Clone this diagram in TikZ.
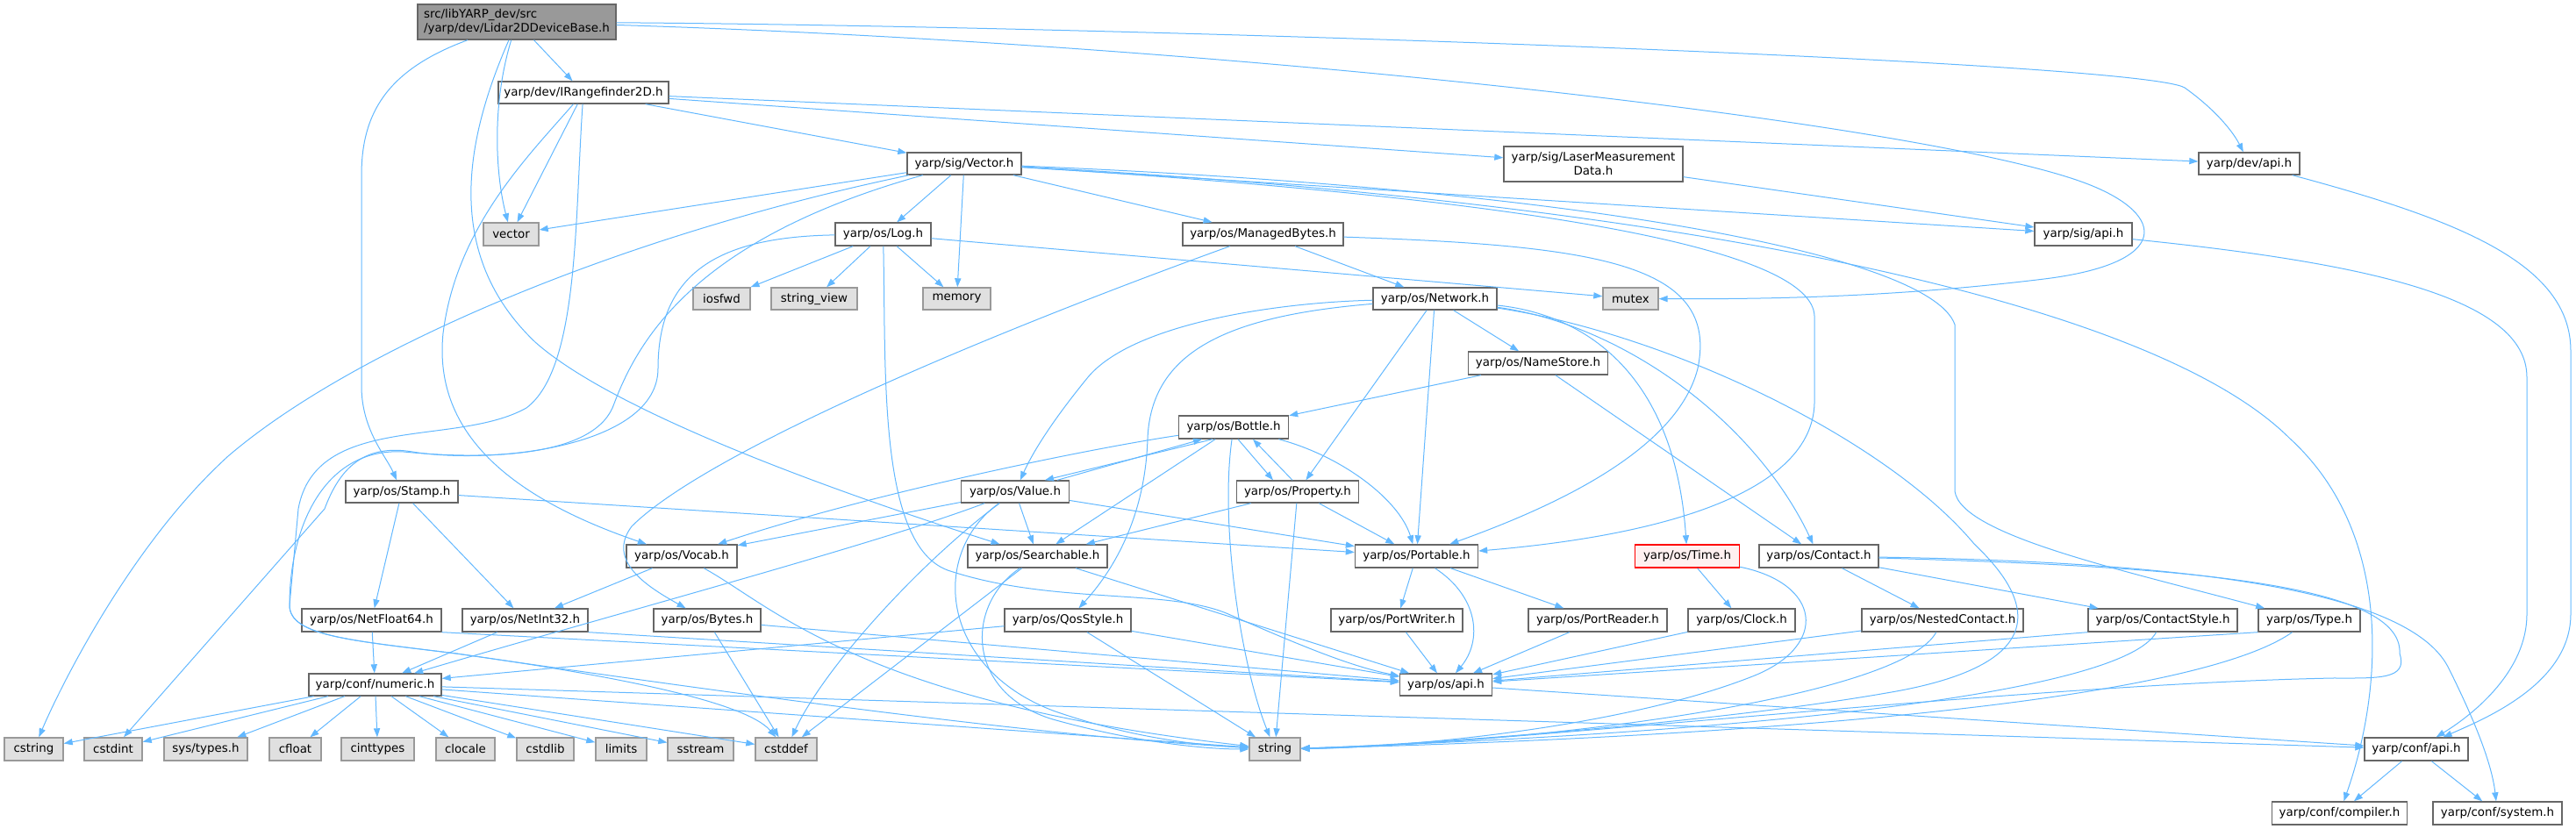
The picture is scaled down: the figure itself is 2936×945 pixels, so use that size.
\documentclass[tikz,border=0pt]{standalone}
\usepackage{fontspec}
\setmainfont{DejaVu Sans}
\usetikzlibrary{arrows.meta}
\definecolor{edgec}{HTML}{63B8FF}
\definecolor{bord}{HTML}{666666}
\definecolor{sysf}{HTML}{E0E0E0}
\definecolor{sysb}{HTML}{999999}
\definecolor{rootf}{HTML}{999999}
\definecolor{timef}{HTML}{FFF0F0}
\begin{document}
\begin{tikzpicture}[x=0.5pt,y=-0.5pt,
  nd/.style={draw=bord, fill=white, line width=0.7pt, inner sep=0pt, font=\fontsize{6.7}{8}\selectfont, text=black},
  sy/.style={nd, draw=sysb, fill=sysf},
  bx/.style 2 args={minimum width=#1*0.5pt, minimum height=#2*0.5pt},
  e/.style={draw=edgec, line width=0.5pt, -{Triangle[length=5pt,width=3.6pt]}},
]
\useasboundingbox (0,0) rectangle (2936,945);
% nodes
\node[nd, fill=rootf, bx={226}{40}, align=left] (L) at (589,25) {src/libYARP\_dev/src\\/yarp/dev/Lidar2DDeviceBase.h};
\node[nd, bx={194}{25}] (IR) at (665,105.5) {yarp/dev/IRangefinder2D.h};
\node[nd, bx={130}{25}] (SV) at (1099,186.5) {yarp/sig/Vector.h};
\node[nd, bx={204}{40}, align=center] (LMD) at (1816,187) {yarp/sig/LaserMeasurement\\Data.h};
\node[nd, bx={115}{25}] (DA) at (2563.5,186.5) {yarp/dev/api.h};
\node[sy, bx={63}{26}] (vec) at (582.5,267) {vector};
\node[nd, bx={109}{26}] (Log) at (1006.5,267) {yarp/os/Log.h};
\node[nd, bx={183}{26}] (MB) at (1439.5,267) {yarp/os/ManagedBytes.h};
\node[nd, bx={111}{26}] (SA) at (2374.5,267) {yarp/sig/api.h};
\node[sy, bx={65}{25}] (iosfwd) at (822.5,340.5) {iosfwd};
\node[sy, bx={98}{25}] (sview) at (928,340.5) {string\_view};
\node[sy, bx={77}{25}] (memory) at (1090.5,340.5) {memory};
\node[nd, bx={141}{25}] (Net) at (1635.5,340.5) {yarp/os/Network.h};
\node[sy, bx={63}{25}] (mutex) at (1858.5,340.5) {mutex};
\node[nd, bx={159}{26}] (NS) at (1753,414) {yarp/os/NameStore.h};
\node[nd, bx={125}{26}] (Bot) at (1406,487) {yarp/os/Bottle.h};
\node[nd, bx={128}{25}] (Stamp) at (458,560.5) {yarp/os/Stamp.h};
\node[nd, bx={123}{25}] (Val) at (1157,560.5) {yarp/os/Value.h};
\node[nd, bx={139}{25}] (Prop) at (1479,560.5) {yarp/os/Property.h};
\node[nd, bx={126}{26}] (Voc) at (777,634) {yarp/os/Vocab.h};
\node[nd, bx={159}{26}] (Srch) at (1182.5,634) {yarp/os/Searchable.h};
\node[nd, bx={140}{26}] (Port) at (1614.5,634) {yarp/os/Portable.h};
\node[nd, draw=red, fill=timef, bx={119}{26}] (Time) at (1923,634) {yarp/os/Time.h};
\node[nd, bx={136}{26}] (Cont) at (2073,634) {yarp/os/Contact.h};
\node[nd, bx={159}{26}] (NF) at (423.5,707) {yarp/os/NetFloat64.h};
\node[nd, bx={143}{26}] (NI) at (598.5,707) {yarp/os/NetInt32.h};
\node[nd, bx={122}{26}] (Bytes) at (806,707) {yarp/os/Bytes.h};
\node[nd, bx={144}{26}] (Qos) at (1217,707) {yarp/os/QosStyle.h};
\node[nd, bx={150}{26}] (PW) at (1592,707) {yarp/os/PortWriter.h};
\node[nd, bx={158}{26}] (PR) at (1821,707) {yarp/os/PortReader.h};
\node[nd, bx={122}{26}] (Clock) at (1985,707) {yarp/os/Clock.h};
\node[nd, bx={184}{26}] (NC) at (2214,707) {yarp/os/NestedContact.h};
\node[nd, bx={170}{26}] (CS) at (2465,707) {yarp/os/ContactStyle.h};
\node[nd, bx={116}{26}] (Type) at (2632,707) {yarp/os/Type.h};
\node[nd, bx={151}{25}] (num) at (427.5,780.5) {yarp/conf/numeric.h};
\node[nd, bx={105}{25}] (OA) at (1648,780.5) {yarp/os/api.h};
\node[nd, bx={118}{26}] (CA) at (2754,854) {yarp/conf/api.h};
\node[nd, bx={154}{26}] (comp) at (2666.5,927) {yarp/conf/compiler.h};
\node[nd, bx={147}{26}] (sys) at (2846.5,927) {yarp/conf/system.h};
\node[sy, bx={67}{26}] (cstring) at (38.5,854) {cstring};
\node[sy, bx={66}{26}] (cstdint) at (129,854) {cstdint};
\node[sy, bx={95}{26}] (systypes) at (234.5,854) {sys/types.h};
\node[sy, bx={59}{26}] (cfloat) at (336.5,854) {cfloat};
\node[sy, bx={83}{26}] (cinttypes) at (430.5,854) {cinttypes};
\node[sy, bx={67}{26}] (clocale) at (530.5,854) {clocale};
\node[sy, bx={65}{26}] (cstdlib) at (621.5,854) {cstdlib};
\node[sy, bx={58}{26}] (limits) at (708,854) {limits};
\node[sy, bx={75}{26}] (sstream) at (798.5,854) {sstream};
\node[sy, bx={70}{26}] (cstddef) at (896,854) {cstddef};
\node[sy, bx={58}{26}] (string) at (1453,854) {string};
% Lidar
\draw[e] (L) -- (IR);
\draw[e] (L) .. controls (560,120) and (565,200) .. (vec);
\draw[e] (L) .. controls (1300,30) and (2440,70) .. (2490,100) .. controls (2525,125) and (2545,150) .. (DA);
\draw[e] (L) .. controls (1400,50) and (2200,140) .. (2380,210) .. controls (2470,245) and (2475,300) .. (2330,318) .. controls (2150,340) and (2000,341) .. (mutex);
\draw[e] (L) .. controls (440,80) and (412,130) .. (412,200) -- (412,440) .. controls (412,490) and (440,520) .. (Stamp);
\draw[e] (L) .. controls (530,160) and (505,290) .. (610,390) .. controls (700,470) and (950,560) .. (Srch);
% IRangefinder2D
\draw[e] (IR) -- (vec);
\draw[e] (IR) -- (SV);
\draw[e] (IR) -- (LMD);
\draw[e] (IR) -- (DA);
\draw[e] (IR) .. controls (600,180) and (520,260) .. (505,380) .. controls (495,480) and (560,560) .. (Voc);
\draw[e] (IR) .. controls (655,250) and (660,420) .. (600,465) .. controls (520,510) and (360,470) .. (340,580) -- (330,690) .. controls (330,725) and (400,730) .. (520,745) .. controls (900,800) and (1200,840) .. (string);
% Vector.h
\draw[e] (SV) -- (vec);
\draw[e] (SV) -- (Log);
\draw[e] (SV) -- (memory);
\draw[e] (SV) -- (MB);
\draw[e] (SV) -- (SA);
\draw[e] (SV) .. controls (1900,230) and (2450,340) .. (2610,500) .. controls (2730,610) and (2715,790) .. (comp);
\draw[e] (SV) .. controls (1800,215) and (2200,290) .. (2228,370) -- (2228,560) .. controls (2235,610) and (2420,650) .. (Type);
\draw[e] (SV) .. controls (1800,230) and (2065,290) .. (2068,360) -- (2068,460) .. controls (2065,560) and (1900,610) .. (Port);
\draw[e] (SV) .. controls (700,270) and (400,400) .. (260,520) .. controls (150,620) and (70,780) .. (cstring);
\draw[e] (SV) .. controls (800,270) and (730,380) .. (700,460) .. controls (680,520) and (560,525) .. (460,515) .. controls (370,510) and (330,600) .. (330,690) .. controls (330,725) and (400,730) .. (520,745) .. controls (700,770) and (850,800) .. (cstddef);
% LMD, api
\draw[e] (LMD) -- (SA);
\draw[e] (DA) .. controls (2800,250) and (2930,300) .. (2930,400) -- (2930,700) .. controls (2930,780) and (2830,820) .. (CA);
\draw[e] (SA) .. controls (2700,300) and (2880,340) .. (2880,430) -- (2880,700) .. controls (2880,770) and (2810,820) .. (CA);
% Log
\draw[e] (Log) -- (iosfwd);
\draw[e] (Log) -- (sview);
\draw[e] (Log) -- (memory);
\draw[e] (Log) -- (mutex);
\draw[e] (Log) .. controls (1010,420) and (1000,620) .. (1080,650) .. controls (1200,690) and (1330,670) .. (1400,700) .. controls (1480,735) and (1540,760) .. (OA);
\draw[e] (Log) .. controls (820,270) and (750,310) .. (750,420) .. controls (750,510) and (560,530) .. (470,515) .. controls (410,505) and (385,540) .. (370,580) -- (cstdint);
% ManagedBytes
\draw[e] (MB) -- (Net);
\draw[e] (MB) .. controls (1100,390) and (800,520) .. (720,600) .. controls (690,640) and (740,670) .. (Bytes);
\draw[e] (MB) .. controls (1820,280) and (1960,300) .. (1935,420) .. controls (1910,520) and (1750,585) .. (Port);
% Network
\draw[e] (Net) -- (NS);
\draw[e] (Net) -- (Port);
\draw[e] (Net) -- (Prop);
\draw[e] (Net) .. controls (1820,360) and (1910,440) .. (Time);
\draw[e] (Net) .. controls (1850,370) and (2000,480) .. (Cont);
\draw[e] (Net) .. controls (1450,345) and (1290,370) .. (1240,430) .. controls (1195,485) and (1175,520) .. (Val);
\draw[e] (Net) .. controls (1400,360) and (1312,400) .. (1308,500) .. controls (1305,600) and (1260,660) .. (Qos);
\draw[e] (Net) .. controls (1900,380) and (2150,500) .. (2250,620) .. controls (2345,710) and (2300,765) .. (2150,790) .. controls (1950,825) and (1600,850) .. (string);
% NameStore
\draw[e] (NS) -- (Bot);
\draw[e] (NS) -- (Cont);
% Bottle
\draw[e] ([xshift=-12pt]Bot.south) -- ([xshift=17pt]Val.north);
\draw[e] ([xshift=24pt]Val.north) -- ([xshift=-18pt]Bot.south);
\draw[e] ([xshift=2.5pt]Bot.south) -- ([xshift=-14pt]Prop.north);
\draw[e] ([xshift=-3pt]Prop.north) -- ([xshift=11pt]Bot.south);
\draw[e] (Bot) -- (Srch);
\draw[e] (Bot) .. controls (1530,520) and (1595,570) .. (Port);
\draw[e] (Bot) .. controls (1390,600) and (1415,760) .. (string);
\draw[e] (Bot) .. controls (1250,510) and (1000,560) .. (Voc);
% Value
\draw[e] (Val) -- (Srch);
\draw[e] (Val) -- (Port);
\draw[e] (Val) -- (Voc);
\draw[e] (Val) .. controls (1000,620) and (700,700) .. (num);
\draw[e] (Val) .. controls (1060,630) and (1070,760) .. (1200,810) .. controls (1300,845) and (1380,850) .. (string);
\draw[e] (Val) .. controls (1050,640) and (940,760) .. (cstddef);
% Property
\draw[e] (Prop) -- (Srch);
\draw[e] (Prop) -- (Port);
\draw[e] (Prop) -- (string);
% Searchable
\draw[e] (Srch) -- (OA);
\draw[e] (Srch) .. controls (1100,690) and (1100,790) .. (1200,820) .. controls (1300,848) and (1380,854) .. (string);
\draw[e] (Srch) -- (cstddef);
% Portable
\draw[e] (Port) -- (PW);
\draw[e] (Port) -- (PR);
\draw[e] (Port) .. controls (1685,680) and (1690,730) .. (OA);
\draw[e] (PW) -- (OA);
\draw[e] (PR) -- (OA);
\draw[e] (Clock) -- (OA);
% Time
\draw[e] (Time) -- (Clock);
\draw[e] (Time) .. controls (2075,665) and (2085,735) .. (2000,770) .. controls (1850,830) and (1600,852) .. (string);
% Contact
\draw[e] (Cont) -- (NC);
\draw[e] (Cont) -- (CS);
\draw[e] (Cont) .. controls (2450,640) and (2740,665) .. (2790,760) .. controls (2820,820) and (2840,870) .. (sys);
\draw[e] (Cont) .. controls (2450,645) and (2740,660) .. (2735,745) .. controls (2745,775) and (2710,773) .. (2660,773) .. controls (2300,780) and (1700,850) .. (string);
% NestedContact, ContactStyle, Type
\draw[e] (NC) -- (OA);
\draw[e] (NC) .. controls (2170,790) and (1800,845) .. (string);
\draw[e] (CS.south west) -- (OA);
\draw[e] (CS) .. controls (2420,790) and (2000,835) .. (string);
\draw[e] (Type.south west) -- (OA);
\draw[e] (Type) .. controls (2500,800) and (2000,840) .. (string);
% Stamp
\draw[e] (Stamp) -- (NF);
\draw[e] (Stamp) -- (NI);
\draw[e] (Stamp) -- (Port);
% Vocab
\draw[e] (Voc) -- (NI);
\draw[e] (Voc) .. controls (880,690) and (980,800) .. (string);
% Net*, Bytes, Qos
\draw[e] (NF) -- (num);
\draw[e] (NI) -- (num);
\draw[e] (NF.south east) -- (OA);
\draw[e] (NI.south east) -- (OA);
\draw[e] (Bytes) -- (OA);
\draw[e] (Bytes) -- (cstddef);
\draw[e] (Qos) -- (OA);
\draw[e] (Qos) -- (string);
\draw[e] (Qos) -- (num);
% numeric
\draw[e] (num) -- (cstring);
\draw[e] (num) -- (cstdint);
\draw[e] (num) -- (systypes);
\draw[e] (num) -- (cfloat);
\draw[e] (num) -- (cinttypes);
\draw[e] (num) -- (clocale);
\draw[e] (num) -- (cstdlib);
\draw[e] (num) -- (limits);
\draw[e] (num) -- (sstream);
\draw[e] (num) -- (cstddef);
\draw[e] (num) -- (string);
\draw[e] (num) -- (CA);
\draw[e] (OA) -- (CA);
% conf
\draw[e] (CA) -- (comp);
\draw[e] (CA) -- (sys);
\end{tikzpicture}
\end{document}
